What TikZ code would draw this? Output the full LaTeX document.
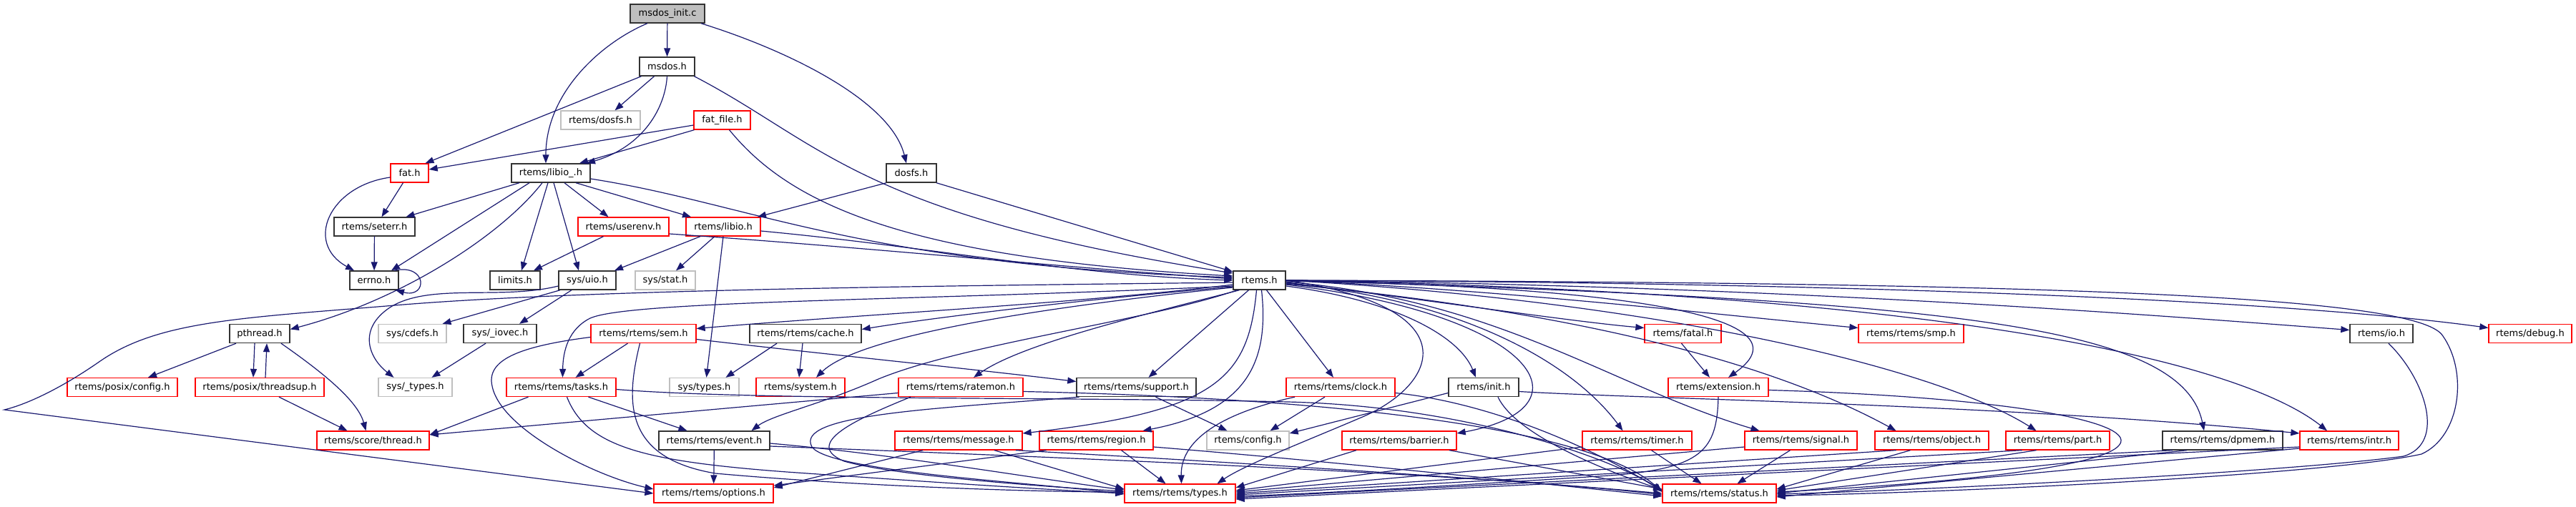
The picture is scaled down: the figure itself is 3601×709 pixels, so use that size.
\documentclass[tikz,border=0pt]{standalone}
\usepackage{fontspec}
\setmainfont{DejaVu Sans}
\usetikzlibrary{arrows.meta}
\definecolor{edgec}{HTML}{191970}
\definecolor{grayb}{HTML}{BFBFBF}
\definecolor{redb}{HTML}{FF0000}
\tikzset{
  box/.style={rectangle, inner sep=0pt, minimum height=26pt, font=\fontsize{13}{15}\selectfont, text=black},
  nb/.style={box, draw=black!80, line width=1.4pt},
  nr/.style={box, draw=redb, line width=1.3pt},
  ng/.style={box, draw=grayb, line width=1.3pt},
  nroot/.style={box, draw=black!80, fill=grayb, line width=1.4pt},
  e/.style={draw=edgec, line width=1.2pt, -{Triangle[length=12pt,width=9pt]}}
}
\begin{document}
\begin{tikzpicture}[x=1pt,y=-1pt]
\fill[white] (0,0) rectangle (3601,709);
\useasboundingbox (0,0) rectangle (3601,709);
% nodes
\node[nroot, minimum width=104pt] (init) at (933,19) {msdos\_init.c};
\node[nb, minimum width=77pt] (msdosh) at (932.5,93) {msdos.h};
\node[ng, minimum width=111pt] (rdosfs) at (839.5,168) {rtems/dosfs.h};
\node[nr, minimum width=79pt] (fatfile) at (1009.5,168) {fat\_file.h};
\node[nr, minimum width=53pt] (fat) at (572.5,242) {fat.h};
\node[nb, minimum width=110pt] (libiou) at (770,242) {rtems/libio\_.h};
\node[nb, minimum width=70pt] (dosfs) at (1274,242) {dosfs.h};
\node[nb, minimum width=113pt] (seterr) at (523.5,317) {rtems/seterr.h};
\node[nr, minimum width=127pt] (userenv) at (871.5,317) {rtems/userenv.h};
\node[nr, minimum width=104pt] (libio) at (1011,317) {rtems/libio.h};
\node[nb, minimum width=68pt] (errno) at (523,392) {errno.h};
\node[nb, minimum width=70pt] (limits) at (720,392) {limits.h};
\node[nb, minimum width=80pt] (uio) at (821,392) {sys/uio.h};
\node[ng, minimum width=84pt] (stat) at (930,392) {sys/stat.h};
\node[nb, minimum width=73pt] (rtems) at (1760.5,392) {rtems.h};
\node[nb, minimum width=84pt] (pthread) at (363,466.5) {pthread.h};
\node[ng, minimum width=95pt] (cdefs) at (576.5,466.5) {sys/cdefs.h};
\node[nb, minimum width=102pt] (iovec) at (699,466.5) {sys/\_iovec.h};
\node[nr, minimum width=147pt] (sem) at (899.5,466.5) {rtems/rtems/sem.h};
\node[nb, minimum width=156pt] (cache) at (1126,466.5) {rtems/rtems/cache.h};
\node[nr, minimum width=107pt] (fatal) at (2352.5,466.5) {rtems/fatal.h};
\node[nr, minimum width=147pt] (smp) at (2671.5,466.5) {rtems/rtems/smp.h};
\node[nb, minimum width=88pt] (io) at (3329,466.5) {rtems/io.h};
\node[nr, minimum width=116pt] (debug) at (3537,466.5) {rtems/debug.h};
\node[nr, minimum width=154pt] (pconfig) at (171,541.5) {rtems/posix/config.h};
\node[nr, minimum width=180pt] (threadsup) at (363,541.5) {rtems/posix/threadsup.h};
\node[ng, minimum width=103pt] (utypes) at (580.5,541.5) {sys/\_types.h};
\node[nr, minimum width=153pt] (tasks) at (784.5,541.5) {rtems/rtems/tasks.h};
\node[ng, minimum width=97pt] (systypes) at (984.5,541.5) {sys/types.h};
\node[nr, minimum width=124pt] (system) at (1119,541.5) {rtems/system.h};
\node[nr, minimum width=174pt] (ratemon) at (1343,541.5) {rtems/rtems/ratemon.h};
\node[nb, minimum width=167pt] (support) at (1588.5,541.5) {rtems/rtems/support.h};
\node[nr, minimum width=152pt] (clock) at (1874,541.5) {rtems/rtems/clock.h};
\node[nb, minimum width=98pt] (rinit) at (2074,541.5) {rtems/init.h};
\node[nr, minimum width=140pt] (extension) at (2402,541.5) {rtems/extension.h};
\node[nr, minimum width=157pt] (thread) at (521.5,616) {rtems/score/thread.h};
\node[nb, minimum width=155pt] (event) at (998.5,616) {rtems/rtems/event.h};
\node[nr, minimum width=178pt] (message) at (1340,616) {rtems/rtems/message.h};
\node[nr, minimum width=159pt] (region) at (1532.5,616) {rtems/rtems/region.h};
\node[ng, minimum width=115pt] (config) at (1744.5,616) {rtems/config.h};
\node[nr, minimum width=160pt] (barrier) at (1956,616) {rtems/rtems/barrier.h};
\node[nr, minimum width=153pt] (timer) at (2288.5,616) {rtems/rtems/timer.h};
\node[nr, minimum width=157pt] (signal) at (2517.5,616) {rtems/rtems/signal.h};
\node[nr, minimum width=159pt] (object) at (2700.5,616) {rtems/rtems/object.h};
\node[nr, minimum width=145pt] (part) at (2876.5,616) {rtems/rtems/part.h};
\node[nb, minimum width=168pt] (dpmem) at (3107,616) {rtems/rtems/dpmem.h};
\node[nr, minimum width=138pt] (intr) at (3284,616) {rtems/rtems/intr.h};
\node[nr, minimum width=167pt] (options) at (997.5,690) {rtems/rtems/options.h};
\node[nr, minimum width=155pt] (types) at (1649.5,690) {rtems/rtems/types.h};
\node[nr, minimum width=159pt] (status) at (2403.5,690) {rtems/rtems/status.h};
% top edges
\draw[e] (init) -- (msdosh);
\draw[e] ([xshift=-28pt]init.south) .. controls (840,60) and (763,130) .. ([xshift=-7pt]libiou.north);
\draw[e] ([xshift=47pt]init.south) .. controls (1100,70) and (1245,140) .. ([xshift=-7pt]dosfs.north);
\draw[e] ([xshift=-36pt]msdosh.south) -- ([xshift=22pt]fat.north);
\draw[e] ([xshift=-18pt]msdosh.south) -- ([xshift=20pt]rdosfs.north);
\draw[e] (msdosh.south) .. controls (930,150) and (900,205) .. ([xshift=50pt]libiou.north);
\draw[e] ([xshift=-39pt]fatfile.south) -- ([xshift=40pt]libiou.north);
\draw[e] ([yshift=-7pt]fatfile.west) -- ([yshift=5pt]fat.east);
\draw[e] ([xshift=38pt]msdosh.south) .. controls (1150,200) and (1200,300) .. ([yshift=10pt]rtems.west);
\draw[e] ([xshift=10pt]fatfile.south) .. controls (1100,280) and (1250,360) .. ([yshift=6pt]rtems.west);
\draw[e] ([xshift=-35pt]dosfs.south) -- ([xshift=48pt]libio.north);
\draw[e] ([xshift=35pt]dosfs.south) -- ([yshift=12pt]rtems.west);
\draw[e] ([yshift=-8pt]libiou.east) .. controls (1050,285) and (1200,370) .. ([yshift=4pt]rtems.west);
\draw[e] ([xshift=35pt]libiou.south) -- ([xshift=-45pt]libio.north);
\draw[e] ([xshift=-44pt]libiou.south) -- ([xshift=44pt]seterr.north);
\draw[e] ([xshift=-30pt]libiou.south) -- ([xshift=24pt]errno.north);
\draw[e] ([xshift=-12pt]libiou.south) .. controls (700,330) and (560,420) .. ([yshift=6pt]pthread.east);
\draw[e] ([xshift=-4pt]libiou.south) -- ([xshift=9pt]limits.north);
\draw[e] ([xshift=4pt]libiou.south) -- ([xshift=-12pt]uio.north);
\draw[e] ([xshift=19pt]libiou.south) -- ([xshift=-21pt]userenv.north);
\draw[e] ([xshift=-9pt]fat.south) -- ([xshift=10pt]seterr.north);
\draw[e] ([yshift=-6pt]fat.west) .. controls (460,260) and (425,340) .. ([xshift=-28pt]errno.north);
\draw[e] (seterr) -- (errno);
\draw[e] ([xshift=28pt]errno.north) .. controls (598,368) and (598,418) .. ([xshift=30pt]errno.south);
\draw[e] ([xshift=-28pt]userenv.south) -- ([xshift=26pt]limits.north);
\draw[e] ([yshift=-10pt]userenv.east) .. controls (1200,345) and (1500,375) .. ([yshift=2pt]rtems.west);
\draw[e] ([xshift=-32pt]libio.south) -- ([xshift=38pt]uio.north);
\draw[e] ([xshift=-12pt]libio.south) -- ([xshift=15pt]stat.north);
\draw[e] (libio.south) -- ([xshift=3pt]systypes.north);
\draw[e] ([yshift=-6pt]libio.east) .. controls (1300,345) and (1500,385) .. (rtems.west);
\draw[e] ([xshift=-38pt]uio.south) -- ([xshift=42pt]cdefs.north);
\draw[e] ([xshift=-22pt]uio.south) -- ([xshift=27pt]iovec.north);
\draw[e] ([yshift=-8pt]uio.west) .. controls (700,420) and (600,395) .. (545,430) .. controls (500,460) and (515,500) .. ([xshift=-30pt]utypes.north);
\draw[e] ([xshift=-20pt]iovec.south) -- ([xshift=23pt]utypes.north);
\draw[e] ([xshift=-33pt]pthread.south) -- ([xshift=36pt]pconfig.north);
\draw[e] ([xshift=-7pt]pthread.south) -- ([xshift=-9pt]threadsup.north);
\draw[e] ([xshift=8pt]threadsup.north) -- ([xshift=10pt]pthread.south);
\draw[e] ([xshift=30pt]pthread.south) .. controls (450,520) and (500,560) .. ([xshift=-10pt]thread.north);
\draw[e] ([xshift=27pt]threadsup.south) -- ([xshift=-36pt]thread.north);
% rtems.h hub
\draw[e] ([yshift=-3pt]rtems.west) .. controls (1300,400) and (800,405) .. (540,428) .. controls (330,445) and (220,450) .. (140,505) .. controls (90,540) and (40,565) .. (6,573) -- (options.west);
\draw[e] ([yshift=-6pt]rtems.west) .. controls (1500,425) and (1200,440) .. ([yshift=7pt]sem.east);
\draw[e] ([yshift=-8pt]rtems.west) .. controls (1300,420) and (880,420) .. (825,445) .. controls (795,460) and (787,490) .. ([xshift=2pt]tasks.north);
\draw[e] ([yshift=-9pt]rtems.west) .. controls (1500,420) and (1300,445) .. ([yshift=6pt]cache.east);
\draw[e] ([yshift=-10pt]rtems.west) .. controls (1450,430) and (1200,470) .. ([xshift=22pt]system.north);
\draw[e] ([xshift=-28pt]rtems.south) .. controls (1600,440) and (1430,480) .. ([xshift=18pt]ratemon.north);
\draw[e] ([xshift=-15pt]rtems.south) -- ([xshift=17pt]support.north);
\draw[e] ([xshift=-31pt]rtems.south) .. controls (1600,450) and (1350,480) .. (1228,530) .. controls (1150,565) and (1080,580) .. ([xshift=52pt]event.north);
\draw[e] ([xshift=-4pt]rtems.south) .. controls (1745,530) and (1700,575) .. ([yshift=10pt]message.east);
\draw[e] ([xshift=3pt]rtems.south) .. controls (1775,510) and (1740,575) .. ([xshift=65pt]region.north);
\draw[e] (rtems.east) .. controls (2060,430) and (2010,540) .. (1900,585) .. controls (1830,615) and (1740,650) .. ([xshift=52pt]types.north);
\draw[e] ([xshift=10pt]rtems.south) -- ([xshift=-10pt]clock.north);
\draw[e] ([yshift=-8pt]rtems.east) .. controls (1950,420) and (2040,470) .. ([xshift=-11pt]rinit.north);
\draw[e] ([yshift=-6pt]rtems.east) .. controls (2150,440) and (2230,570) .. ([yshift=10pt]barrier.east);
\draw[e] ([yshift=-4pt]rtems.east) .. controls (2050,420) and (2200,510) .. ([xshift=-20pt]timer.north);
\draw[e] ([yshift=-2pt]rtems.east) .. controls (2100,420) and (2250,540) .. ([xshift=-58pt]signal.north);
\draw[e] ([yshift=-3pt]rtems.east) .. controls (2000,420) and (2200,450) .. ([yshift=8pt]fatal.west);
\draw[e] ([xshift=-2pt]fatal.south) -- ([xshift=-12pt]extension.north);
\draw[e] ([yshift=-1pt]rtems.east) .. controls (2250,400) and (2540,440) .. ([xshift=14pt]extension.north);
\draw[e] (rtems.east) .. controls (2100,405) and (2400,440) .. ([yshift=8pt]smp.west);
\draw[e] ([yshift=-5pt]rtems.east) .. controls (2250,440) and (2500,520) .. ([xshift=-50pt]object.north);
\draw[e] (rtems.east) .. controls (2300,420) and (2700,510) .. ([xshift=-30pt]part.north);
\draw[e] (rtems.east) .. controls (2700,420) and (3050,450) .. ([xshift=-26pt]dpmem.north);
\draw[e] (rtems.east) .. controls (2800,410) and (3150,520) .. ([xshift=-31pt]intr.north);
\draw[e] (rtems.east) .. controls (2500,400) and (3000,440) .. ([yshift=5pt]io.west);
\draw[e] (rtems.east) .. controls (2600,395) and (3200,420) .. ([yshift=8pt]debug.west);
\draw[e] (rtems.east) .. controls (2800,395) and (3380,410) .. (3415,470) .. controls (3450,520) and (3440,610) .. (3385,635) .. controls (3250,665) and (2700,690) .. ([yshift=-3pt]status.east);
\draw[e] ([xshift=10pt]io.south) .. controls (3390,530) and (3420,620) .. (3360,638) .. controls (3200,660) and (2700,685) .. ([yshift=-1pt]status.east);
% second level
\draw[e] ([yshift=-5pt]sem.west) .. controls (720,485) and (680,505) .. (688,540) .. controls (700,600) and (830,665) .. ([yshift=6pt]options.west);
\draw[e] ([xshift=-22pt]sem.south) -- ([xshift=20pt]tasks.north);
\draw[e] ([xshift=-5pt]sem.south) .. controls (875,560) and (870,640) .. (1000,662) .. controls (1200,680) and (1450,688) .. ([yshift=2pt]types.west);
\draw[e] ([yshift=-8pt]sem.east) .. controls (1150,495) and (1350,515) .. ([yshift=8pt]support.west);
\draw[e] ([xshift=-46pt]tasks.south) -- ([yshift=8pt]thread.east);
\draw[e] ([xshift=38pt]tasks.south) -- ([xshift=-38pt]event.north);
\draw[e] ([xshift=8pt]tasks.south) .. controls (820,625) and (900,645) .. (1100,660) .. controls (1300,674) and (1450,684) .. (types.west);
\draw[e] ([yshift=-3pt]tasks.east) .. controls (1050,560) and (1500,555) .. (1800,562) .. controls (2050,568) and (2250,640) .. ([yshift=4pt]status.west);
\draw[e] ([yshift=-8pt]ratemon.west) -- ([yshift=8pt]thread.east);
\draw[e] ([xshift=-70pt]ratemon.south) .. controls (1200,585) and (1120,620) .. (1180,645) .. controls (1250,665) and (1450,680) .. ([yshift=3pt]types.west);
\draw[e] ([yshift=-6pt]ratemon.east) .. controls (2000,560) and (2250,620) .. ([yshift=2pt]status.west);
\draw[e] (event) -- (options);
\draw[e] ([yshift=-4pt]event.east) .. controls (1250,635) and (1450,670) .. ([yshift=5pt]types.west);
\draw[e] ([yshift=-8pt]event.east) .. controls (1500,640) and (2100,665) .. ([yshift=-2pt]status.west);
\draw[e] ([xshift=-50pt]message.south) -- ([yshift=8pt]options.east);
\draw[e] ([xshift=50pt]message.south) -- ([yshift=6pt]types.west);
\draw[e] ([xshift=80pt]message.south) .. controls (1700,645) and (2100,670) .. (status.west);
\draw[e] ([xshift=35pt]region.south) -- ([xshift=-20pt]types.north);
\draw[e] ([yshift=-9pt]region.east) .. controls (1800,640) and (2100,670) .. ([yshift=-4pt]status.west);
\draw[e] ([xshift=-70pt]region.south) -- ([yshift=11pt]options.east);
\draw[e] ([xshift=27pt]support.south) -- ([xshift=-29pt]config.north);
\draw[e] ([xshift=-80pt]support.south) .. controls (1300,572) and (1110,580) .. (1135,625) .. controls (1160,660) and (1450,675) .. ([yshift=-1pt]types.west);
\draw[e] ([xshift=-22pt]clock.south) -- ([xshift=31pt]config.north);
\draw[e] ([xshift=-64pt]clock.south) .. controls (1720,575) and (1650,610) .. ([xshift=2pt]types.north);
\draw[e] ([yshift=-8pt]clock.east) .. controls (2100,565) and (2250,640) .. ([yshift=3pt]status.west);
\draw[e] ([yshift=-8pt]rinit.west) -- ([yshift=10pt]config.east);
\draw[e] ([xshift=20pt]rinit.south) .. controls (2120,610) and (2250,660) .. ([yshift=5pt]status.west);
\draw[e] ([yshift=-6pt]rinit.east) .. controls (2300,558) and (2800,565) .. ([yshift=10pt]intr.west);
\draw[e] (extension.south) .. controls (2400,630) and (2380,655) .. (2250,665) .. controls (2050,678) and (1850,690) .. ([yshift=-4pt]types.east);
\draw[e] ([yshift=-4pt]extension.east) .. controls (2800,555) and (3000,590) .. (2960,625) .. controls (2920,660) and (2650,680) .. ([yshift=2pt]status.east);
\draw[e] ([xshift=-60pt]barrier.south) -- ([yshift=8pt]types.east);
\draw[e] ([xshift=70pt]barrier.south) -- ([yshift=6pt]status.west);
\draw[e] ([yshift=-9pt]timer.west) -- ([yshift=4pt]types.east);
\draw[e] ([xshift=20pt]timer.south) -- ([xshift=-25pt]status.north);
\draw[e] ([yshift=-9pt]signal.west) -- ([yshift=2pt]types.east);
\draw[e] ([xshift=-15pt]signal.south) -- ([xshift=25pt]status.north);
\draw[e] ([xshift=-50pt]object.south) -- (types.east);
\draw[e] ([xshift=-30pt]object.south) -- ([yshift=6pt]status.east);
\draw[e] ([xshift=-50pt]part.south) -- ([yshift=-2pt]types.east);
\draw[e] ([xshift=-30pt]part.south) -- ([yshift=4pt]status.east);
\draw[e] ([xshift=-70pt]dpmem.south) -- ([yshift=-6pt]types.east);
\draw[e] ([xshift=-50pt]dpmem.south) -- (status.east);
\draw[e] ([yshift=-9pt]intr.west) -- ([yshift=-8pt]types.east);
\draw[e] ([yshift=-11pt]intr.west) -- ([yshift=-5pt]status.east);
\draw[e] ([xshift=-40pt]cache.south) -- ([xshift=30pt]systypes.north);
\draw[e] ([xshift=-4pt]cache.south) -- ([xshift=-2pt]system.north);
\end{tikzpicture}
\end{document}
